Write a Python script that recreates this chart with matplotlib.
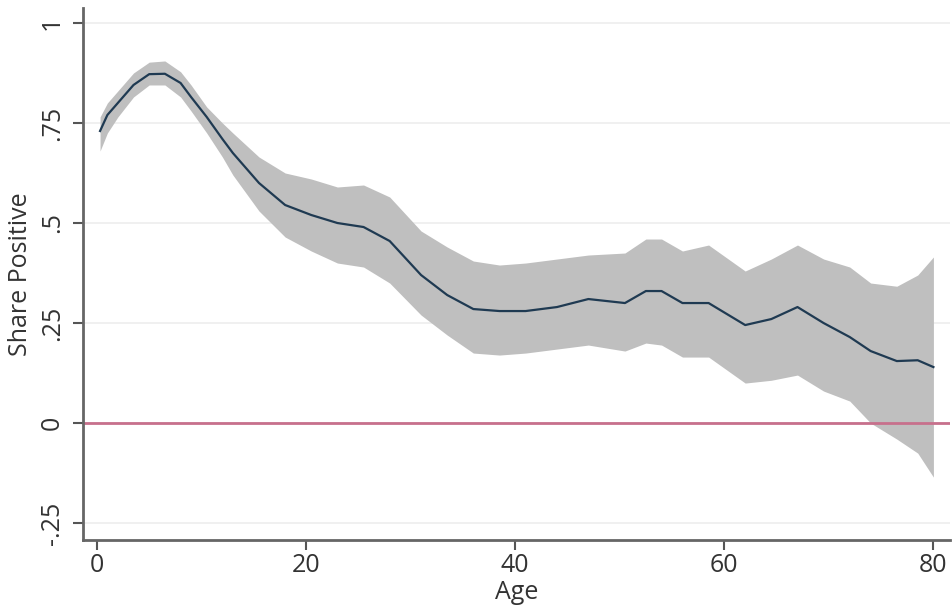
import numpy as np
import matplotlib
matplotlib.use('Agg')
import matplotlib.pyplot as plt

plt.rcParams['font.family'] = ['Open Sans', 'DejaVu Sans']

# values
age = [0.3, 1, 2, 3.5, 5, 6.5, 8, 9, 10.5, 12, 13, 15.5, 18, 20.5, 23, 25.5,
       28, 31, 33.5, 36, 38.5, 41, 44, 47, 50.5, 52.5, 54, 56, 58.5, 62,
       64.5, 67, 69.5, 72, 74, 76.5, 78.5, 80]
share = [0.73, 0.77, 0.80, 0.845, 0.872, 0.873, 0.85, 0.815, 0.765, 0.71,
         0.675, 0.60, 0.545, 0.52, 0.50, 0.49, 0.455, 0.37, 0.32, 0.285, 0.28,
         0.28, 0.29, 0.31, 0.30, 0.33, 0.33, 0.30, 0.30, 0.245, 0.26, 0.29,
         0.25, 0.215, 0.18, 0.155, 0.157, 0.14]
upper = [0.765, 0.80, 0.83, 0.875, 0.902, 0.905, 0.878, 0.845, 0.79, 0.75,
         0.725, 0.665, 0.625, 0.61, 0.59, 0.595, 0.565, 0.48, 0.44, 0.405,
         0.395, 0.40, 0.41, 0.42, 0.425, 0.46, 0.46, 0.43, 0.445, 0.38, 0.41,
         0.445, 0.41, 0.39, 0.35, 0.342, 0.37, 0.415]
lower = [0.68, 0.725, 0.765, 0.815, 0.845, 0.845, 0.815, 0.78, 0.725, 0.665,
         0.62, 0.53, 0.465, 0.43, 0.40, 0.39, 0.35, 0.27, 0.22, 0.175, 0.17,
         0.175, 0.185, 0.195, 0.18, 0.20, 0.195, 0.165, 0.165, 0.10, 0.107,
         0.12, 0.08, 0.055, 0.0, -0.04, -0.075, -0.135]

yticks = [-0.25, 0, 0.25, 0.5, 0.75, 1]
ytick_labels = ['-.25', '0', '.25', '.5', '.75', '1']
xticks = [0, 20, 40, 60, 80]

fig = plt.figure(figsize=(9.53, 6.11), dpi=100)
ax = fig.add_axes([0.087, 0.116, 0.91, 0.871])

for y in yticks:
  ax.axhline(y, color='#eeeeee', lw=1.2, zorder=0)

ax.fill_between(age, lower, upper, color='#bfbfbf', lw=0, zorder=1)
ax.axhline(0, color='#c7708c', lw=2, zorder=2)
ax.plot(age, share, color='#1f3a52', lw=1.6, zorder=3)

ax.set_xlim(-1.34, 81.6)
ax.set_ylim(-0.2925, 1.0375)
ax.set_xticks(xticks)
ax.set_yticks(yticks)
ax.set_yticklabels(ytick_labels, rotation=90, va='center')
ax.tick_params(labelsize=18, colors='#555555', labelcolor='#333333',
               length=7, width=1.5)
ax.tick_params(axis='x', pad=2)
ax.tick_params(axis='y', pad=6)
ax.set_xlabel('Age', fontsize=18, color='#333333')
ax.xaxis.set_label_coords(0.5, -0.074)
ax.set_ylabel('Share Positive', fontsize=18, color='#333333', labelpad=5)

for side in ['top', 'right']:
  ax.spines[side].set_visible(False)
for side in ['left', 'bottom']:
  ax.spines[side].set_color('#666666')
  ax.spines[side].set_linewidth(2)

plt.savefig('out.png', dpi=100)
